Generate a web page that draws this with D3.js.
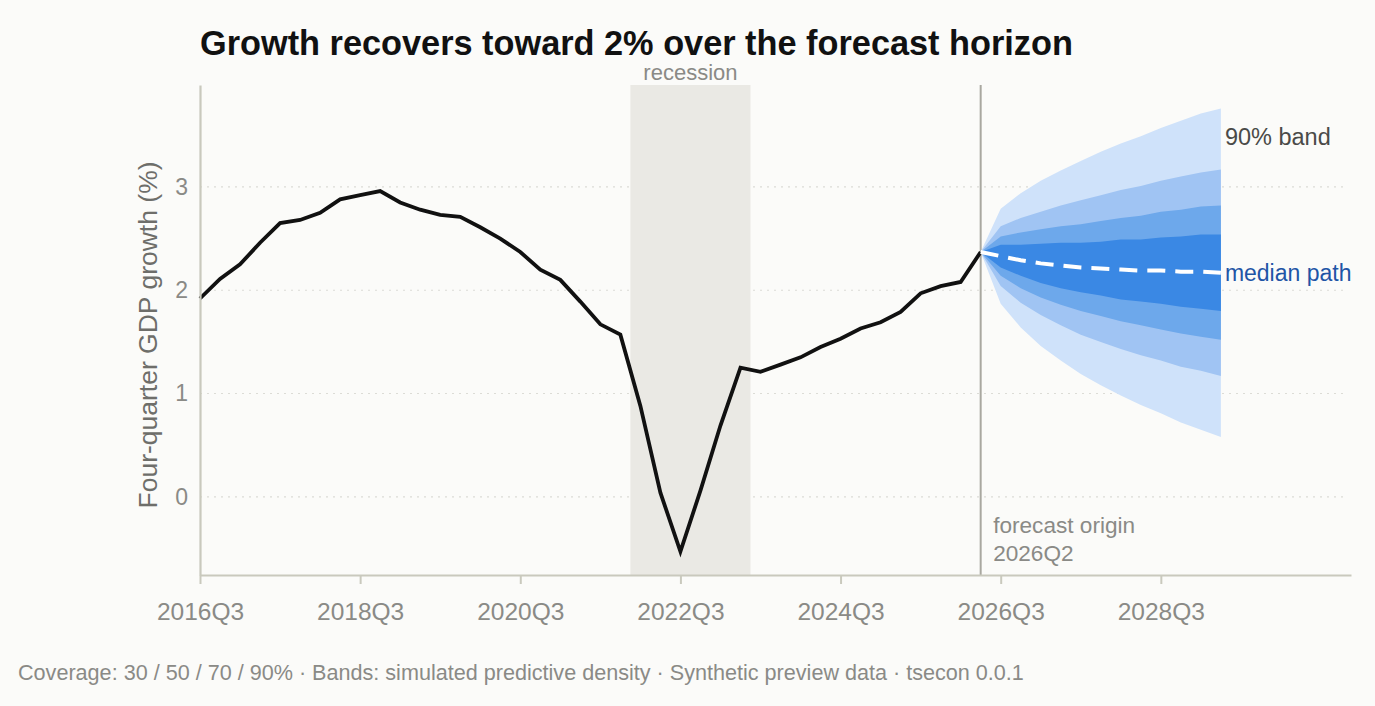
<!DOCTYPE html>
<html>
<head>
<meta charset="utf-8">
<script src="https://cdn.jsdelivr.net/npm/d3@7"></script>
<style>
  html, body { margin: 0; padding: 0; background: #fbfbf9; }
  svg { display: block; font-family: "Liberation Sans", Arial, Helvetica, sans-serif; }
</style>
</head>
<body>
<svg id="chart" width="1375" height="706"></svg>
<script>
// ---------- DATA ----------
const historyStart = "2016Q3";
const historyValues = [
  1.92, 2.11, 2.25, 2.46, 2.65, 2.68, 2.75, 2.88, 2.92, 2.96,
  2.85, 2.78, 2.73, 2.71, 2.61, 2.50, 2.37, 2.20, 2.10, 1.89,
  1.67, 1.57, 0.88, 0.04, -0.53, 0.06, 0.69, 1.25, 1.21, 1.28,
  1.35, 1.45, 1.53, 1.63, 1.69, 1.79, 1.97, 2.04, 2.08, 2.37
];
const recessionQuarters = ["2022Q1", "2023Q2"];
const forecastOrigin = "2026Q2";
const forecastMedian = [2.33, 2.29, 2.26, 2.24, 2.22, 2.21, 2.20, 2.19, 2.19, 2.18, 2.18, 2.17];
const band90Lo = [1.87, 1.64, 1.46, 1.32, 1.19, 1.08, 0.98, 0.89, 0.81, 0.72, 0.65, 0.58];
const band90Hi = [2.79, 2.94, 3.06, 3.16, 3.25, 3.34, 3.42, 3.49, 3.57, 3.64, 3.71, 3.76];
const band70Lo = [2.04, 1.88, 1.76, 1.66, 1.57, 1.50, 1.43, 1.37, 1.32, 1.26, 1.22, 1.17];
const band70Hi = [2.62, 2.70, 2.76, 2.82, 2.87, 2.92, 2.97, 3.01, 3.06, 3.10, 3.14, 3.17];
const band50Lo = [2.14, 2.02, 1.93, 1.86, 1.80, 1.75, 1.70, 1.66, 1.62, 1.58, 1.55, 1.52];
const band50Hi = [2.52, 2.56, 2.59, 2.62, 2.64, 2.67, 2.70, 2.72, 2.76, 2.78, 2.81, 2.82];
const band30Lo = [2.22, 2.14, 2.07, 2.02, 1.98, 1.95, 1.91, 1.89, 1.87, 1.84, 1.82, 1.80];
const band30Hi = [2.44, 2.44, 2.45, 2.46, 2.46, 2.47, 2.49, 2.49, 2.51, 2.52, 2.54, 2.54];
const xTickLabels = ["2016Q3", "2018Q3", "2020Q3", "2022Q3", "2024Q3", "2026Q3", "2028Q3"];
const yTickValues = [0, 1, 2, 3];

const titleText = "Growth recovers toward 2% over the forecast horizon";
const yLabelText = "Four-quarter GDP growth (%)";
const captionText = "Coverage: 30 / 50 / 70 / 90% \u00b7 Bands: simulated predictive density \u00b7 Synthetic preview data \u00b7 tsecon 0.0.1";

(function () {
// ---------- HELPERS ----------
function qIndex(label) {
  const y0 = +historyStart.slice(0, 4), q0 = +historyStart.slice(5);
  const yy = +label.slice(0, 4), q = +label.slice(5);
  return (yy - y0) * 4 + (q - q0);
}
function qLabel(i) {
  const y0 = +historyStart.slice(0, 4), q0 = +historyStart.slice(5);
  const t = (q0 - 1) + i;
  return (y0 + Math.floor(t / 4)) + "Q" + ((t % 4) + 1);
}

const history = historyValues.map((v, i) => ({ i, v }));
const originIdx = qIndex(forecastOrigin);
const originVal = historyValues[originIdx];
const lastIdx = originIdx + forecastMedian.length;

function bandData(lo, hi) {
  return [{ i: originIdx, lo: originVal, hi: originVal }]
    .concat(lo.map((l, k) => ({ i: originIdx + 1 + k, lo: l, hi: hi[k] })));
}
const bands = [
  { key: "90", data: bandData(band90Lo, band90Hi), color: "#cfe2fa" },
  { key: "70", data: bandData(band70Lo, band70Hi), color: "#a0c4f3" },
  { key: "50", data: bandData(band50Lo, band50Hi), color: "#6da8eb" },
  { key: "30", data: bandData(band30Lo, band30Hi), color: "#3a88e4" }
];
const median = [{ i: originIdx, v: originVal }]
  .concat(forecastMedian.map((v, k) => ({ i: originIdx + 1 + k, v })));

// ---------- LAYOUT ----------
const svg = d3.select("#chart");
const W = 1375, H = 706;
svg.append("rect").attr("width", W).attr("height", H).attr("fill", "#fbfbf9");

const pLeft = 200, pRight = 1351, pTop = 85, pBottom = 575;
const x = d3.scaleLinear().domain([0, lastIdx + 6.5]).range([pLeft, pRight]);
const y = d3.scaleLinear().domain([-0.757, 3.987]).range([pBottom, pTop]);

const grey = "#8a8a86";

// gridlines
svg.append("g").selectAll("line").data(yTickValues).join("line")
  .attr("x1", pLeft).attr("x2", pRight - 4)
  .attr("y1", d => y(d)).attr("y2", d => y(d))
  .attr("stroke", "#dcdcd6").attr("stroke-width", 1.2)
  .attr("stroke-dasharray", "2,5");

// recession band
const recA = qIndex(recessionQuarters[0]) - 0.5;
const recB = qIndex(recessionQuarters[1]) + 0.5;
svg.append("rect")
  .attr("x", x(recA)).attr("width", x(recB) - x(recA))
  .attr("y", pTop).attr("height", pBottom - pTop)
  .attr("fill", "#eae9e4");
svg.append("text")
  .attr("x", (x(recA) + x(recB)) / 2).attr("y", 80)
  .attr("text-anchor", "middle").attr("font-size", 22).attr("fill", grey)
  .text("recession");

// fan bands
const area = d3.area().x(d => x(d.i)).y0(d => y(d.lo)).y1(d => y(d.hi));
svg.append("g").selectAll("path").data(bands).join("path")
  .attr("d", d => area(d.data)).attr("fill", d => d.color);

// forecast origin line
svg.append("line")
  .attr("x1", x(originIdx)).attr("x2", x(originIdx))
  .attr("y1", pTop).attr("y2", pBottom)
  .attr("stroke", "#a9a8a0").attr("stroke-width", 2);
svg.append("text").attr("x", x(originIdx) + 12.5).attr("y", 533)
  .attr("font-size", 22.6).attr("fill", grey).text("forecast origin");
svg.append("text").attr("x", x(originIdx) + 12.5).attr("y", 561)
  .attr("font-size", 22.6).attr("fill", grey).text(forecastOrigin);

// history line
const line = d3.line().x(d => x(d.i)).y(d => y(d.v));
svg.append("path").attr("d", line(history))
  .attr("fill", "none").attr("stroke", "#111").attr("stroke-width", 3.8)
  .attr("stroke-linejoin", "miter");

// median path
svg.append("path").attr("d", line(median))
  .attr("fill", "none").attr("stroke", "#ffffff").attr("stroke-width", 4)
  .attr("stroke-dasharray", "18,10");

// labels on fan
const endX = x(lastIdx);
svg.append("text").attr("x", endX + 4).attr("y", 145)
  .attr("font-size", 23.5).attr("fill", "#4a4a48").text("90% band");
svg.append("text").attr("x", endX + 4).attr("y", y(forecastMedian[forecastMedian.length - 1]) + 8)
  .attr("font-size", 23).attr("fill", "#1f55a6").text("median path");

// axes
const xTickIdx = xTickLabels.map(qIndex);
const xAxis = d3.axisBottom(x).tickValues(xTickIdx).tickFormat(qLabel)
  .tickSizeOuter(0).tickSizeInner(9).tickPadding(19);
const gx = svg.append("g").attr("transform", `translate(0,${pBottom})`).call(xAxis);
gx.select(".domain").attr("stroke", "#c9c9bd").attr("stroke-width", 2.2);
gx.selectAll(".tick line").attr("stroke", "#c9c9bd").attr("stroke-width", 2);
gx.selectAll(".tick text").attr("font-size", 24.5).attr("fill", grey)
  .attr("font-family", "'Liberation Sans', Arial, sans-serif");

const yAxis = d3.axisLeft(y).tickValues(yTickValues).tickFormat(d3.format("d"))
  .tickSize(0).tickPadding(12);
const gy = svg.append("g").attr("transform", `translate(${pLeft},0)`).call(yAxis);
gy.select(".domain").attr("stroke", "#c9c9bd").attr("stroke-width", 2.2);
gy.selectAll(".tick text").attr("font-size", 23).attr("fill", grey)
  .attr("font-family", "'Liberation Sans', Arial, sans-serif");

// y label
svg.append("text")
  .attr("transform", `translate(157,335) rotate(-90)`)
  .attr("text-anchor", "middle").attr("font-size", 26.5).attr("fill", "#6e6e6a")
  .text(yLabelText);

// title
svg.append("text").attr("x", 200).attr("y", 55)
  .attr("font-size", 34.3).attr("font-weight", "bold").attr("fill", "#111")
  .text(titleText);

// caption
svg.append("text").attr("x", 18).attr("y", 680)
  .attr("font-size", 21.6).attr("fill", "#8a8a86")
  .text(captionText);
})();
</script>
</body>
</html>
